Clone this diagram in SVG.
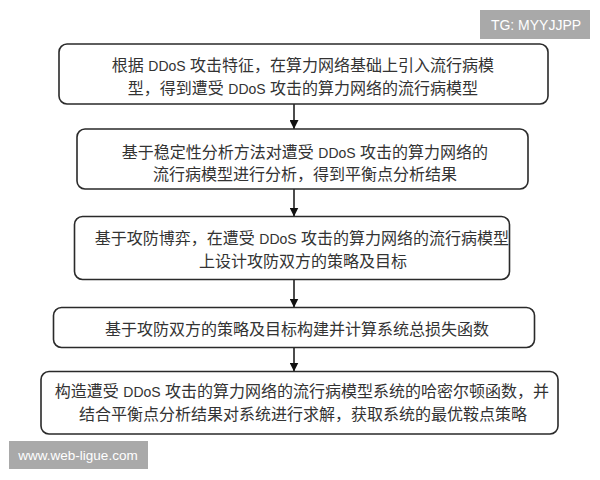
<svg xmlns="http://www.w3.org/2000/svg" width="600" height="480" viewBox="0 0 600 480">
<defs>
<marker id="ah" viewBox="0 0 10 10" refX="10" refY="5" markerWidth="9" markerHeight="9" markerUnits="userSpaceOnUse" orient="auto">
<path d="M0,0 L10,5 L0,10 z" fill="#111"/>
</marker>
<style>
.box{fill:#fff;stroke:#2a2a2a;stroke-width:1.6}
.t{font-family:"Liberation Sans","Noto Sans CJK SC",sans-serif;font-size:16px;fill:#333;text-anchor:middle}
.d{font-size:14px}
.c{stroke:#111;stroke-width:1.5;fill:none;marker-end:url(#ah)}
.wm{fill:#a9a9a9}
.wt{font-family:"Liberation Sans","DejaVu Sans",sans-serif;fill:#fff;text-anchor:middle}
</style>
</defs>
<rect width="600" height="480" fill="#fff"/>
<g id="connectors">
<line class="c" x1="294" y1="104" x2="294" y2="129"/>
<line class="c" x1="294" y1="189" x2="294" y2="216.5"/>
<line class="c" x1="294" y1="279.5" x2="294" y2="307.5"/>
<line class="c" x1="294" y1="347.5" x2="294" y2="371.5"/>
</g>
<g id="n1">
<rect class="box" x="59" y="44" width="489" height="60" rx="8"/>
<text class="t" x="303" y="71">根据 <tspan class="d">DDoS</tspan> 攻击特征，在算力网络基础上引入流行病模</text>
<text class="t" x="303" y="94">型，得到遭受 <tspan class="d">DDoS</tspan> 攻击的算力网络的流行病模型</text>
</g>
<g id="n2">
<rect class="box" x="77" y="129" width="451" height="60" rx="8"/>
<text class="t" x="305" y="157.5">基于稳定性分析方法对遭受 <tspan class="d">DDoS</tspan> 攻击的算力网络的</text>
<text class="t" x="305" y="179.5">流行病模型进行分析，得到平衡点分析结果</text>
</g>
<g id="n3">
<rect class="box" x="74.5" y="216.5" width="435" height="63" rx="8"/>
<text class="t" x="302" y="244">基于攻防博弈，在遭受 <tspan class="d">DDoS</tspan> 攻击的算力网络的流行病模型</text>
<text class="t" x="303" y="266.5">上设计攻防双方的策略及目标</text>
</g>
<g id="n4">
<rect class="box" x="53.5" y="307.5" width="481" height="40" rx="8"/>
<text class="t" x="297" y="335">基于攻防双方的策略及目标构建并计算系统总损失函数</text>
</g>
<g id="n5">
<rect class="box" x="41" y="371.5" width="517" height="62.5" rx="8"/>
<text class="t" x="302" y="396.5">构造遭受 <tspan class="d">DDoS</tspan> 攻击的算力网络的流行病模型系统的哈密尔顿函数，并</text>
<text class="t" x="303" y="420">结合平衡点分析结果对系统进行求解，获取系统的最优鞍点策略</text>
</g>
<g id="wm1">
<rect class="wm" x="480" y="10" width="110" height="29"/>
<text class="wt" x="536" y="30" font-size="14">TG: MYYJJPP</text>
</g>
<g id="wm2">
<rect class="wm" x="9" y="441" width="139" height="28"/>
<text class="wt" x="78" y="460" font-size="13.5">www.web-ligue.com</text>
</g>
</svg>
